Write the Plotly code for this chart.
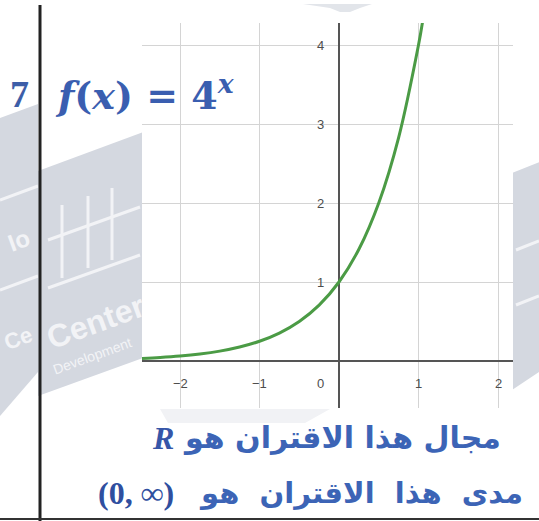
import plotly.graph_objects as go

# ---- data -------------------------------------------------------------
BASE = 4                                   # f(x) = 4^x
x_samples = [-2.48, -2.25, -2.0, -1.75, -1.5, -1.25, -1.0, -0.75, -0.5,
             -0.25, 0.0, 0.25, 0.5, 0.75, 1.0, 1.05]
y_samples = [BASE ** x for x in x_samples]

x_tick_vals = [-2, -1, 0, 1, 2]
x_tick_text = ["\u22122", "\u22121", "0", "1", "2"]
y_tick_vals = [1, 2, 3, 4]
y_tick_text = ["1", "2", "3", "4"]

W, H = 539, 521


def px(x):
    return x / W


def py(y):
    return 1 - y / H


def poly(points, color, opacity=1.0):
    d = "M " + " L ".join(f"{px(a):.5f},{py(b):.5f}" for a, b in points) + " Z"
    return dict(type="path", path=d, xref="paper", yref="paper",
                fillcolor=color, line=dict(width=0), layer="below",
                opacity=opacity)


def seg(p0, p1, color, width, layer="below"):
    return dict(type="line", xref="paper", yref="paper",
                x0=px(p0[0]), y0=py(p0[1]), x1=px(p1[0]), y1=py(p1[1]),
                line=dict(color=color, width=width), layer=layer)


def label(x, y, text, size, color, family, angle=0, xanchor="center"):
    return dict(x=px(x), y=py(y), xref="paper", yref="paper", text=text,
                showarrow=False, xanchor=xanchor, yanchor="middle",
                textangle=angle, font=dict(family=family, size=size, color=color))


fig = go.Figure()

fig.add_trace(go.Scatter(
    x=x_samples, y=y_samples, mode="lines",
    line=dict(color="#4b9b45", width=3, shape="spline"),
    hoverinfo="skip", showlegend=False,
))

# ---- background logos (faint) ------------------------------------------
WM = "#d4d8e0"
STROKE = "#f2f3f6"
shapes = [
    poly([(0, 118), (38, 104), (38, 372), (0, 416)], WM),
    poly([(38, 171), (165, 124), (165, 350), (38, 396)], WM),
    poly([(512, 173), (545, 160), (545, 368), (512, 390)], WM),
    poly([(303, 4), (372, 4), (360, 8), (345, 14), (330, 8)], "#e2e5ea"),
    poly([(160, 409), (330, 409), (305, 423), (168, 423)], "#f1f2f5"),
]
for a, b in [((48, 288), (140, 255)), ((62, 205), (62, 278)), ((88, 196), (88, 268)),
             ((112, 188), (112, 260)), ((48, 240), (140, 207)),
             ((0, 290), (38, 276)), ((0, 200), (38, 186)),
             ((516, 250), (539, 241)), ((516, 305), (539, 296))]:
    shapes.append(seg(a, b, STROKE, 3))
# white card the graph sits on
shapes.append(dict(type="rect", xref="paper", yref="paper",
                   x0=px(142), x1=px(513), y0=py(408), y1=py(12),
                   fillcolor="white", line=dict(width=0), layer="below"))
# page rules
shapes.append(seg((40, 5), (40, 521), "#222222", 3, "above"))
shapes.append(seg((0, 519), (539, 519), "#333333", 2, "above"))

annotations = []

# tick labels placed beside the axes inside the graph
TICK_FONT = dict(family="Liberation Sans", size=13, color="#4d4d4d")
for v, t in zip(y_tick_vals, y_tick_text):
    annotations.append(dict(x=0, y=v, xref="x", yref="y", text=t, showarrow=False,
                            xanchor="right", yanchor="middle", xshift=-13,
                            font=TICK_FONT))
for v, t in zip(x_tick_vals, x_tick_text):
    annotations.append(dict(x=v, y=0, xref="x", yref="y", text=t, showarrow=False,
                            xanchor="right" if v == 0 else "center", yanchor="top",
                            xshift=-13 if v == 0 else 0, yshift=-13,
                            font=TICK_FONT))

# logo lettering
annotations += [
    label(95, 322, "<b>Center</b>", 32, STROKE, "Liberation Sans", -20),
    label(92, 356, "Development", 14, STROKE, "Liberation Sans", -20),
    label(18, 338, "<b>Ce</b>", 22, STROKE, "Liberation Sans", -20),
    label(18, 240, "<b>Io</b>", 24, STROKE, "Liberation Sans", -20),
]

# heading
annotations += [
    label(19, 94, "<b>7</b>", 38, "#3d5ea8", "Liberation Serif"),
    label(53, 93,
          "<b><i>f</i>(<i>x</i>) = 4<sup><i>x</i></sup></b>",
          38, "#3a5eb0", "DejaVu Serif", xanchor="left"),
]

# domain / range statements
AR = "#3c64b6"
annotations += [
    label(503, 437, "<b>مجال هذا الاقتران هو</b>", 30, AR, "DejaVu Sans",
          xanchor="right"),
    label(163, 438, "<b><i>R</i></b>", 32, "#3656a8", "Liberation Serif"),
    label(525, 493, "<b>مدى&nbsp; هذا&nbsp; الاقتران&nbsp; هو</b>", 29, AR,
          "DejaVu Sans", xanchor="right"),
    label(136, 493, "<b>(0, ∞)</b>", 32, "#2f4f9f", "Liberation Serif"),
]

axis_common = dict(showgrid=True, gridcolor="#d4d4d4", gridwidth=1,
                   zeroline=True, zerolinecolor="#555555", zerolinewidth=2,
                   showticklabels=False, ticks="", showline=False, fixedrange=True)

fig.update_layout(
    width=W, height=H,
    margin=dict(l=0, r=0, t=0, b=0),
    paper_bgcolor="white", plot_bgcolor="white",
    xaxis=dict(domain=[px(142), px(513)],
               range=[(142 - 339) / 79.5, (513 - 339) / 79.5],
               tickvals=x_tick_vals, **axis_common),
    yaxis=dict(domain=[py(408), py(23)],
               range=[(361 - 408) / 79.0, (361 - 23) / 79.0],
               tickvals=y_tick_vals, **axis_common),
    shapes=shapes,
    annotations=annotations,
    showlegend=False,
)

fig.write_html("out.html")
